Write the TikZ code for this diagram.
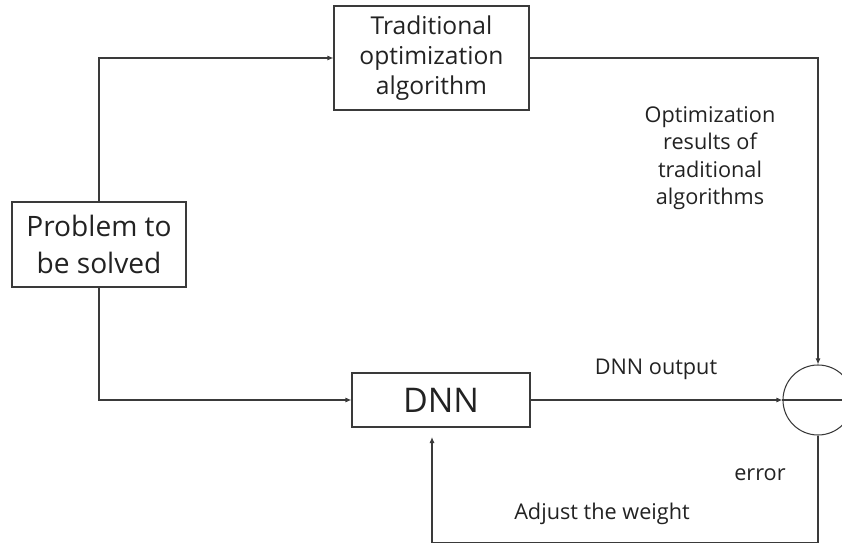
\documentclass[tikz,border=0pt]{standalone}
\usepackage{fontspec}
\setmainfont{Open Sans}
\usetikzlibrary{arrows.meta}
\definecolor{linegray}{HTML}{3A3A3A}
\definecolor{textgray}{HTML}{222222}
\tikzset{
  box/.style={draw=linegray, line width=0.9pt, inner sep=0pt, text=textgray, align=center},
  arr/.style={draw=linegray, line width=0.9pt, -{Latex[length=1.8mm,width=1.5mm]}},
  wire/.style={draw=linegray, line width=0.9pt},
  lbl/.style={text=textgray, align=center, font=\fontsize{18.5}{23.4}\selectfont}
}
\begin{document}
\begin{tikzpicture}[x=0.03cm, y=-0.03cm]
    \useasboundingbox (0, 0) rectangle (842, 545);
    \node[box, minimum width=5.22cm, minimum height=2.55cm, font=\fontsize{24}{31.5}\selectfont] (prob) at (99, 244.5) {Problem to\\be solved};
    \node[box, minimum width=5.85cm, minimum height=3.12cm, font=\fontsize{21}{25.5}\selectfont] (trad) at (431.5, 58) {Traditional\\optimization\\algorithm};
    \node[box, minimum width=5.34cm, minimum height=1.62cm, font=\fontsize{29}{34}\selectfont] (dnn) at (441, 400) {DNN};
    \node[box, circle, minimum size=2.1cm] (sum) at (818, 400) {};
    \coordinate (adj) at (432, 437);
    \draw[arr] (prob.north) |- (trad.west);
    \draw[arr] (prob.south) |- (dnn.west);
    \draw[arr] (trad.east) -| (sum.north);
    \draw[arr] (dnn.east) -- (sum.west);
    \draw[wire] (sum.west) -- (sum.east);
    \draw[arr] (sum.south) -- ++(0, 107) -| (adj);
    \node[lbl] (res) at (710, 158) {Optimization\\results of\\traditional\\algorithms};
    \node[lbl] (out) at (656, 369) {DNN output};
    \node[lbl] (err) at (760, 475) {error};
    \node[lbl] (wgt) at (602, 514) {Adjust the weight};
\end{tikzpicture}
\end{document}
